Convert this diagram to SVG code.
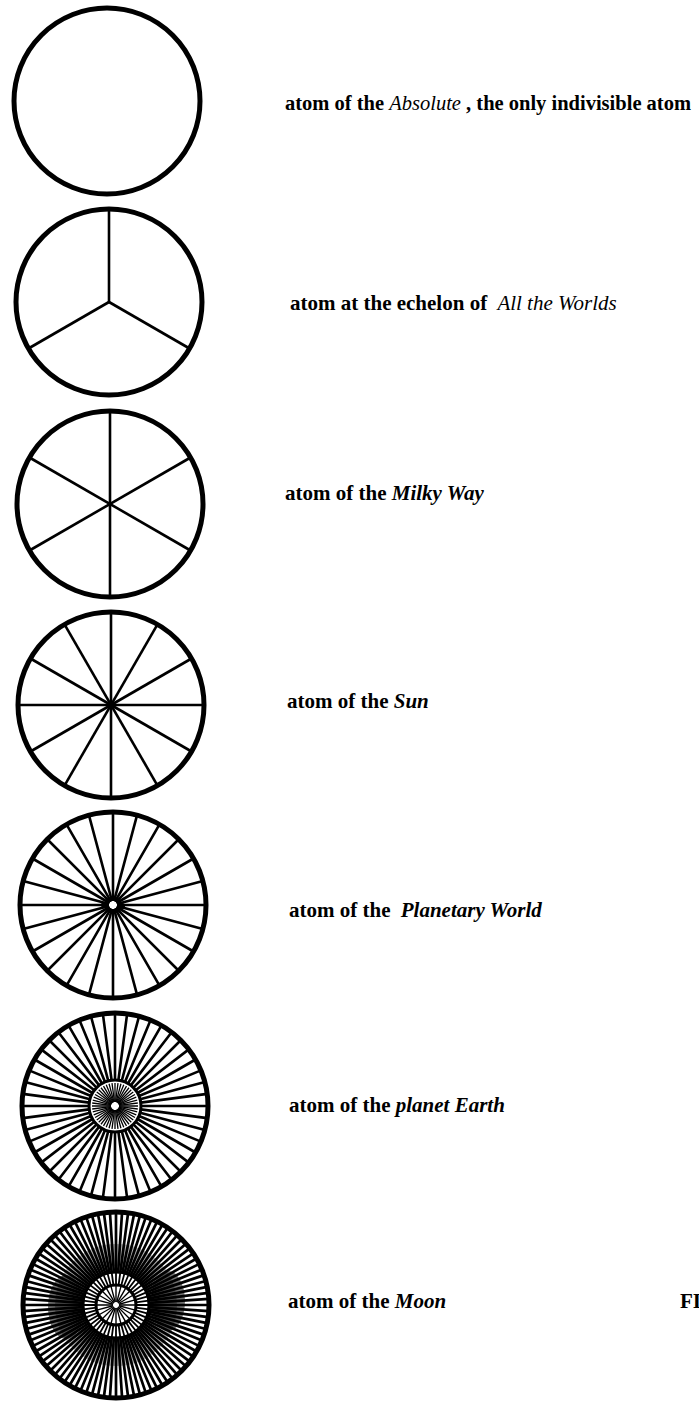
<svg xmlns="http://www.w3.org/2000/svg" xmlns:xlink="http://www.w3.org/1999/xlink" width="699" height="1401" viewBox="0 0 699 1401">
<style>
.rim{fill:none;stroke:#000;stroke-width:5}
.sp{stroke:#000;stroke-width:2.6;fill:none}
.sp5{stroke:#000;stroke-width:2.6;fill:none;stroke-dasharray:89 8 89}
.sp6{stroke:#000;stroke-width:2.6;fill:none;stroke-dasharray:67 52 67}
.sp6i{stroke:#000;stroke-width:1.3;fill:none;stroke-dasharray:0 70 19 8 19 70}
.sp7{stroke:#000;stroke-width:2.7;fill:none;stroke-dasharray:60 66 60}
.sp7m{stroke:#000;stroke-width:1.8;fill:none;stroke-dasharray:0 60 13 40 13 60}
.sp7i{stroke:#000;stroke-width:1.4;fill:none;stroke-dasharray:0 73 17 6 17 73}
.inner{fill:none;stroke:#000;stroke-width:3}
.lbl{font-family:"Liberation Serif","Times New Roman",serif;font-size:21px;font-weight:bold;fill:#000}
.it{font-style:italic}
.itn{font-style:italic;font-weight:normal}
</style>
<defs>
<line id="d" x1="0" y1="-93" x2="0" y2="93"/>
<line id="r" x1="0" y1="0" x2="0" y2="-93"/>
</defs>
<rect width="699" height="1401" fill="#fff"/>

<g id="atom1">
<circle class="rim" cx="107" cy="101" r="93"/>
</g>

<g id="atom2" transform="translate(109,302)">
<g class="sp"><use xlink:href="#r"/><use xlink:href="#r" transform="rotate(120)"/><use xlink:href="#r" transform="rotate(240)"/></g>
<circle class="rim" cx="0" cy="0" r="93"/>
</g>

<g id="atom3" transform="translate(110,504)">
<g class="sp"><use xlink:href="#d"/><use xlink:href="#d" transform="rotate(60)"/><use xlink:href="#d" transform="rotate(120)"/></g>
<circle class="rim" cx="0" cy="0" r="93"/>
</g>

<g id="atom4" transform="translate(111,705)">
<g class="sp"><use xlink:href="#d"/><use xlink:href="#d" transform="rotate(30)"/><use xlink:href="#d" transform="rotate(60)"/><use xlink:href="#d" transform="rotate(90)"/><use xlink:href="#d" transform="rotate(120)"/><use xlink:href="#d" transform="rotate(150)"/></g>
<circle class="rim" cx="0" cy="0" r="93"/>
</g>

<g id="atom5" transform="translate(113,905)">
<g class="sp5"><use xlink:href="#d"/><use xlink:href="#d" transform="rotate(15)"/><use xlink:href="#d" transform="rotate(30)"/><use xlink:href="#d" transform="rotate(45)"/><use xlink:href="#d" transform="rotate(60)"/><use xlink:href="#d" transform="rotate(75)"/><use xlink:href="#d" transform="rotate(90)"/><use xlink:href="#d" transform="rotate(105)"/><use xlink:href="#d" transform="rotate(120)"/><use xlink:href="#d" transform="rotate(135)"/><use xlink:href="#d" transform="rotate(150)"/><use xlink:href="#d" transform="rotate(165)"/></g>
<circle cx="-9" cy="0" r="3" fill="#000"/><circle cx="9" cy="1" r="3" fill="#000"/>
<circle class="rim" cx="0" cy="0" r="93"/>
</g>

<g id="atom6" transform="translate(115,1106)">
<g class="sp6"><use xlink:href="#d"/><use xlink:href="#d" transform="rotate(7.5)"/><use xlink:href="#d" transform="rotate(15)"/><use xlink:href="#d" transform="rotate(22.5)"/><use xlink:href="#d" transform="rotate(30)"/><use xlink:href="#d" transform="rotate(37.5)"/><use xlink:href="#d" transform="rotate(45)"/><use xlink:href="#d" transform="rotate(52.5)"/><use xlink:href="#d" transform="rotate(60)"/><use xlink:href="#d" transform="rotate(67.5)"/><use xlink:href="#d" transform="rotate(75)"/><use xlink:href="#d" transform="rotate(82.5)"/><use xlink:href="#d" transform="rotate(90)"/><use xlink:href="#d" transform="rotate(97.5)"/><use xlink:href="#d" transform="rotate(105)"/><use xlink:href="#d" transform="rotate(112.5)"/><use xlink:href="#d" transform="rotate(120)"/><use xlink:href="#d" transform="rotate(127.5)"/><use xlink:href="#d" transform="rotate(135)"/><use xlink:href="#d" transform="rotate(142.5)"/><use xlink:href="#d" transform="rotate(150)"/><use xlink:href="#d" transform="rotate(157.5)"/><use xlink:href="#d" transform="rotate(165)"/><use xlink:href="#d" transform="rotate(172.5)"/></g>
<g class="sp6i"><use xlink:href="#d"/><use xlink:href="#d" transform="rotate(7.5)"/><use xlink:href="#d" transform="rotate(15)"/><use xlink:href="#d" transform="rotate(22.5)"/><use xlink:href="#d" transform="rotate(30)"/><use xlink:href="#d" transform="rotate(37.5)"/><use xlink:href="#d" transform="rotate(45)"/><use xlink:href="#d" transform="rotate(52.5)"/><use xlink:href="#d" transform="rotate(60)"/><use xlink:href="#d" transform="rotate(67.5)"/><use xlink:href="#d" transform="rotate(75)"/><use xlink:href="#d" transform="rotate(82.5)"/><use xlink:href="#d" transform="rotate(90)"/><use xlink:href="#d" transform="rotate(97.5)"/><use xlink:href="#d" transform="rotate(105)"/><use xlink:href="#d" transform="rotate(112.5)"/><use xlink:href="#d" transform="rotate(120)"/><use xlink:href="#d" transform="rotate(127.5)"/><use xlink:href="#d" transform="rotate(135)"/><use xlink:href="#d" transform="rotate(142.5)"/><use xlink:href="#d" transform="rotate(150)"/><use xlink:href="#d" transform="rotate(157.5)"/><use xlink:href="#d" transform="rotate(165)"/><use xlink:href="#d" transform="rotate(172.5)"/></g>
<circle class="inner" cx="0" cy="0" r="26"/>
<circle class="rim" cx="0" cy="0" r="93"/>
</g>

<g id="atom7" transform="translate(116,1305)">
<ellipse cx="-50" cy="2" rx="18" ry="32" fill="#000" fill-opacity="0.55"/>
<ellipse cx="52" cy="-4" rx="17" ry="30" fill="#000" fill-opacity="0.55"/>
<circle cx="0" cy="0" r="50" fill="none" stroke="#000" stroke-width="22" stroke-opacity="0.3"/>
<g class="sp7"><use xlink:href="#d"/><use xlink:href="#d" transform="rotate(3.75)"/><use xlink:href="#d" transform="rotate(7.5)"/><use xlink:href="#d" transform="rotate(11.25)"/><use xlink:href="#d" transform="rotate(15)"/><use xlink:href="#d" transform="rotate(18.75)"/><use xlink:href="#d" transform="rotate(22.5)"/><use xlink:href="#d" transform="rotate(26.25)"/><use xlink:href="#d" transform="rotate(30)"/><use xlink:href="#d" transform="rotate(33.75)"/><use xlink:href="#d" transform="rotate(37.5)"/><use xlink:href="#d" transform="rotate(41.25)"/><use xlink:href="#d" transform="rotate(45)"/><use xlink:href="#d" transform="rotate(48.75)"/><use xlink:href="#d" transform="rotate(52.5)"/><use xlink:href="#d" transform="rotate(56.25)"/><use xlink:href="#d" transform="rotate(60)"/><use xlink:href="#d" transform="rotate(63.75)"/><use xlink:href="#d" transform="rotate(67.5)"/><use xlink:href="#d" transform="rotate(71.25)"/><use xlink:href="#d" transform="rotate(75)"/><use xlink:href="#d" transform="rotate(78.75)"/><use xlink:href="#d" transform="rotate(82.5)"/><use xlink:href="#d" transform="rotate(86.25)"/><use xlink:href="#d" transform="rotate(90)"/><use xlink:href="#d" transform="rotate(93.75)"/><use xlink:href="#d" transform="rotate(97.5)"/><use xlink:href="#d" transform="rotate(101.25)"/><use xlink:href="#d" transform="rotate(105)"/><use xlink:href="#d" transform="rotate(108.75)"/><use xlink:href="#d" transform="rotate(112.5)"/><use xlink:href="#d" transform="rotate(116.25)"/><use xlink:href="#d" transform="rotate(120)"/><use xlink:href="#d" transform="rotate(123.75)"/><use xlink:href="#d" transform="rotate(127.5)"/><use xlink:href="#d" transform="rotate(131.25)"/><use xlink:href="#d" transform="rotate(135)"/><use xlink:href="#d" transform="rotate(138.75)"/><use xlink:href="#d" transform="rotate(142.5)"/><use xlink:href="#d" transform="rotate(146.25)"/><use xlink:href="#d" transform="rotate(150)"/><use xlink:href="#d" transform="rotate(153.75)"/><use xlink:href="#d" transform="rotate(157.5)"/><use xlink:href="#d" transform="rotate(161.25)"/><use xlink:href="#d" transform="rotate(165)"/><use xlink:href="#d" transform="rotate(168.75)"/><use xlink:href="#d" transform="rotate(172.5)"/><use xlink:href="#d" transform="rotate(176.25)"/></g>
<g class="sp7m"><use xlink:href="#d"/><use xlink:href="#d" transform="rotate(7.5)"/><use xlink:href="#d" transform="rotate(15)"/><use xlink:href="#d" transform="rotate(22.5)"/><use xlink:href="#d" transform="rotate(30)"/><use xlink:href="#d" transform="rotate(37.5)"/><use xlink:href="#d" transform="rotate(45)"/><use xlink:href="#d" transform="rotate(52.5)"/><use xlink:href="#d" transform="rotate(60)"/><use xlink:href="#d" transform="rotate(67.5)"/><use xlink:href="#d" transform="rotate(75)"/><use xlink:href="#d" transform="rotate(82.5)"/><use xlink:href="#d" transform="rotate(90)"/><use xlink:href="#d" transform="rotate(97.5)"/><use xlink:href="#d" transform="rotate(105)"/><use xlink:href="#d" transform="rotate(112.5)"/><use xlink:href="#d" transform="rotate(120)"/><use xlink:href="#d" transform="rotate(127.5)"/><use xlink:href="#d" transform="rotate(135)"/><use xlink:href="#d" transform="rotate(142.5)"/><use xlink:href="#d" transform="rotate(150)"/><use xlink:href="#d" transform="rotate(157.5)"/><use xlink:href="#d" transform="rotate(165)"/><use xlink:href="#d" transform="rotate(172.5)"/></g>
<g class="sp7i"><use xlink:href="#d"/><use xlink:href="#d" transform="rotate(15)"/><use xlink:href="#d" transform="rotate(30)"/><use xlink:href="#d" transform="rotate(45)"/><use xlink:href="#d" transform="rotate(60)"/><use xlink:href="#d" transform="rotate(75)"/><use xlink:href="#d" transform="rotate(90)"/><use xlink:href="#d" transform="rotate(105)"/><use xlink:href="#d" transform="rotate(120)"/><use xlink:href="#d" transform="rotate(135)"/><use xlink:href="#d" transform="rotate(150)"/><use xlink:href="#d" transform="rotate(165)"/></g>
<circle class="inner" cx="0" cy="0" r="33"/>
<circle class="inner" cx="0" cy="0" r="20" stroke-width="2"/>
<circle class="rim" cx="0" cy="0" r="93"/>
</g>

<g id="labels">
<text class="lbl" x="285" y="110" style="font-size:20.5px">atom of the <tspan class="itn">Absolute</tspan> , the only indivisible atom</text>
<text class="lbl" x="290" y="310">atom at the echelon of <tspan class="itn" dx="5">All the Worlds</tspan></text>
<text class="lbl" x="285" y="500">atom of the <tspan class="it">Milky Way</tspan></text>
<text class="lbl" x="287" y="708">atom of the <tspan class="it">Sun</tspan></text>
<text class="lbl" x="289" y="917">atom of the <tspan class="it" dx="5">Planetary World</tspan></text>
<text class="lbl" x="289" y="1112">atom of the <tspan class="it">planet Earth</tspan></text>
<text class="lbl" x="288" y="1308">atom of the <tspan class="it">Moon</tspan></text>
<text class="lbl" x="680" y="1308">FI</text>
</g>
</svg>
